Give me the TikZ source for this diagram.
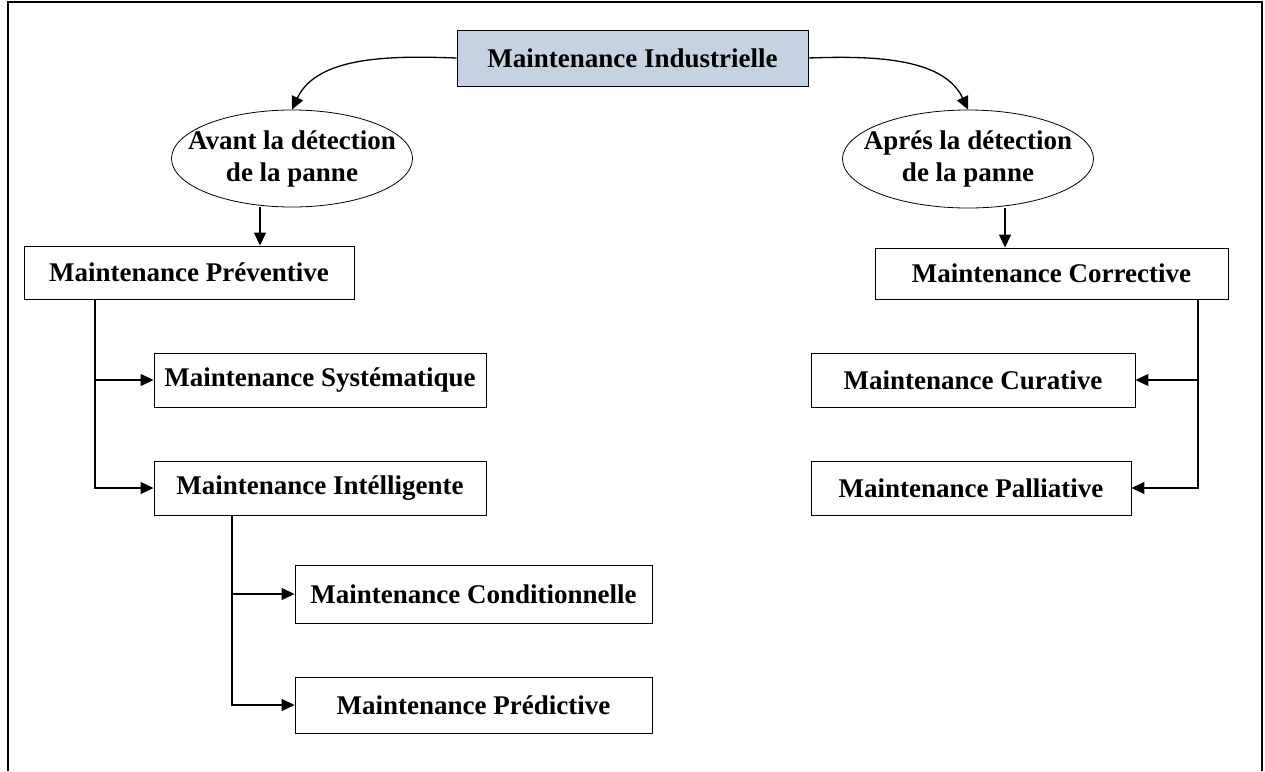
\documentclass[tikz,border=0pt]{standalone}
\usepackage{fontspec}
\setmainfont{Liberation Serif}
\usetikzlibrary{arrows.meta,shapes.geometric}
\definecolor{topfill}{RGB}{196,210,226}
\begin{document}
\begin{tikzpicture}[x=1pt,y=-1pt,
  box/.style={draw=black,line width=0.9pt,rectangle,inner sep=0pt,
    font=\fontsize{27}{31}\selectfont\bfseries},
  ell/.style={draw=black,line width=0.8pt,ellipse,inner sep=0pt,align=center,
    font=\fontsize{27}{32}\selectfont\bfseries},
  arr/.style={line width=1.3pt,-{Triangle[length=13pt,width=12pt]}}]
\useasboundingbox (0,0) rectangle (1265,771);
\draw[line width=2pt] (8,771) -- (8,2) -- (1262,2) -- (1262,771);

\node[box,fill=topfill,minimum width=351pt,minimum height=56pt] (top) at (632.5,58) {Maintenance Industrielle};
\node[ell,minimum width=241pt,minimum height=97pt] (ell1) at (292,158.5) {\makebox[0pt]{Avant la détection}\\\makebox[0pt]{de la panne}};
\node[ell,minimum width=251pt,minimum height=98pt] (ell2) at (968,159) {\makebox[0pt]{Aprés la détection}\\\makebox[0pt]{de la panne}};

\node[box,minimum width=330pt,minimum height=53pt] (prev) at (189,272.5) {Maintenance Préventive};
\node[box,minimum width=332pt,minimum height=54pt] (sys) at (320,380) {Maintenance Systématique};
\node[box,minimum width=332pt,minimum height=54pt] (int) at (320,488) {Maintenance Intélligente};
\node[box,minimum width=357pt,minimum height=58pt] (cond) at (473.5,594) {Maintenance Conditionnelle};
\node[box,minimum width=357pt,minimum height=56pt] (pred) at (473.5,705) {Maintenance Prédictive};

\node[box,minimum width=353pt,minimum height=51pt] (corr) at (1051.5,273.5) {Maintenance Corrective};
\node[box,minimum width=324pt,minimum height=54pt] (cur) at (973,380) {Maintenance Curative};
\node[box,minimum width=320pt,minimum height=54pt] (pal) at (971,488) {Maintenance Palliative};

\draw[arr] (top.west) to[out=178,in=65,looseness=0.9] (ell1.north);
\draw[arr] (top.east) to[out=2,in=115,looseness=0.9] (ell2.north);
\draw[arr] ([xshift=-32pt]ell1.south) -- ([xshift=-32pt]ell1.south |- prev.north);
\draw[arr] ([xshift=37pt]ell2.south) -- ([xshift=37pt]ell2.south |- corr.north);

\draw[arr] ([xshift=-94pt]prev.south) |- (sys.west);
\draw[arr] ([xshift=-94pt]prev.south) |- (int.west);
\draw[arr] ([xshift=-88pt]int.south) |- (cond.west);
\draw[arr] ([xshift=-88pt]int.south) |- (pred.west);
\draw[arr] ([xshift=146.5pt]corr.south) |- (cur.east);
\draw[arr] ([xshift=146.5pt]corr.south) |- (pal.east);
\end{tikzpicture}
\end{document}
